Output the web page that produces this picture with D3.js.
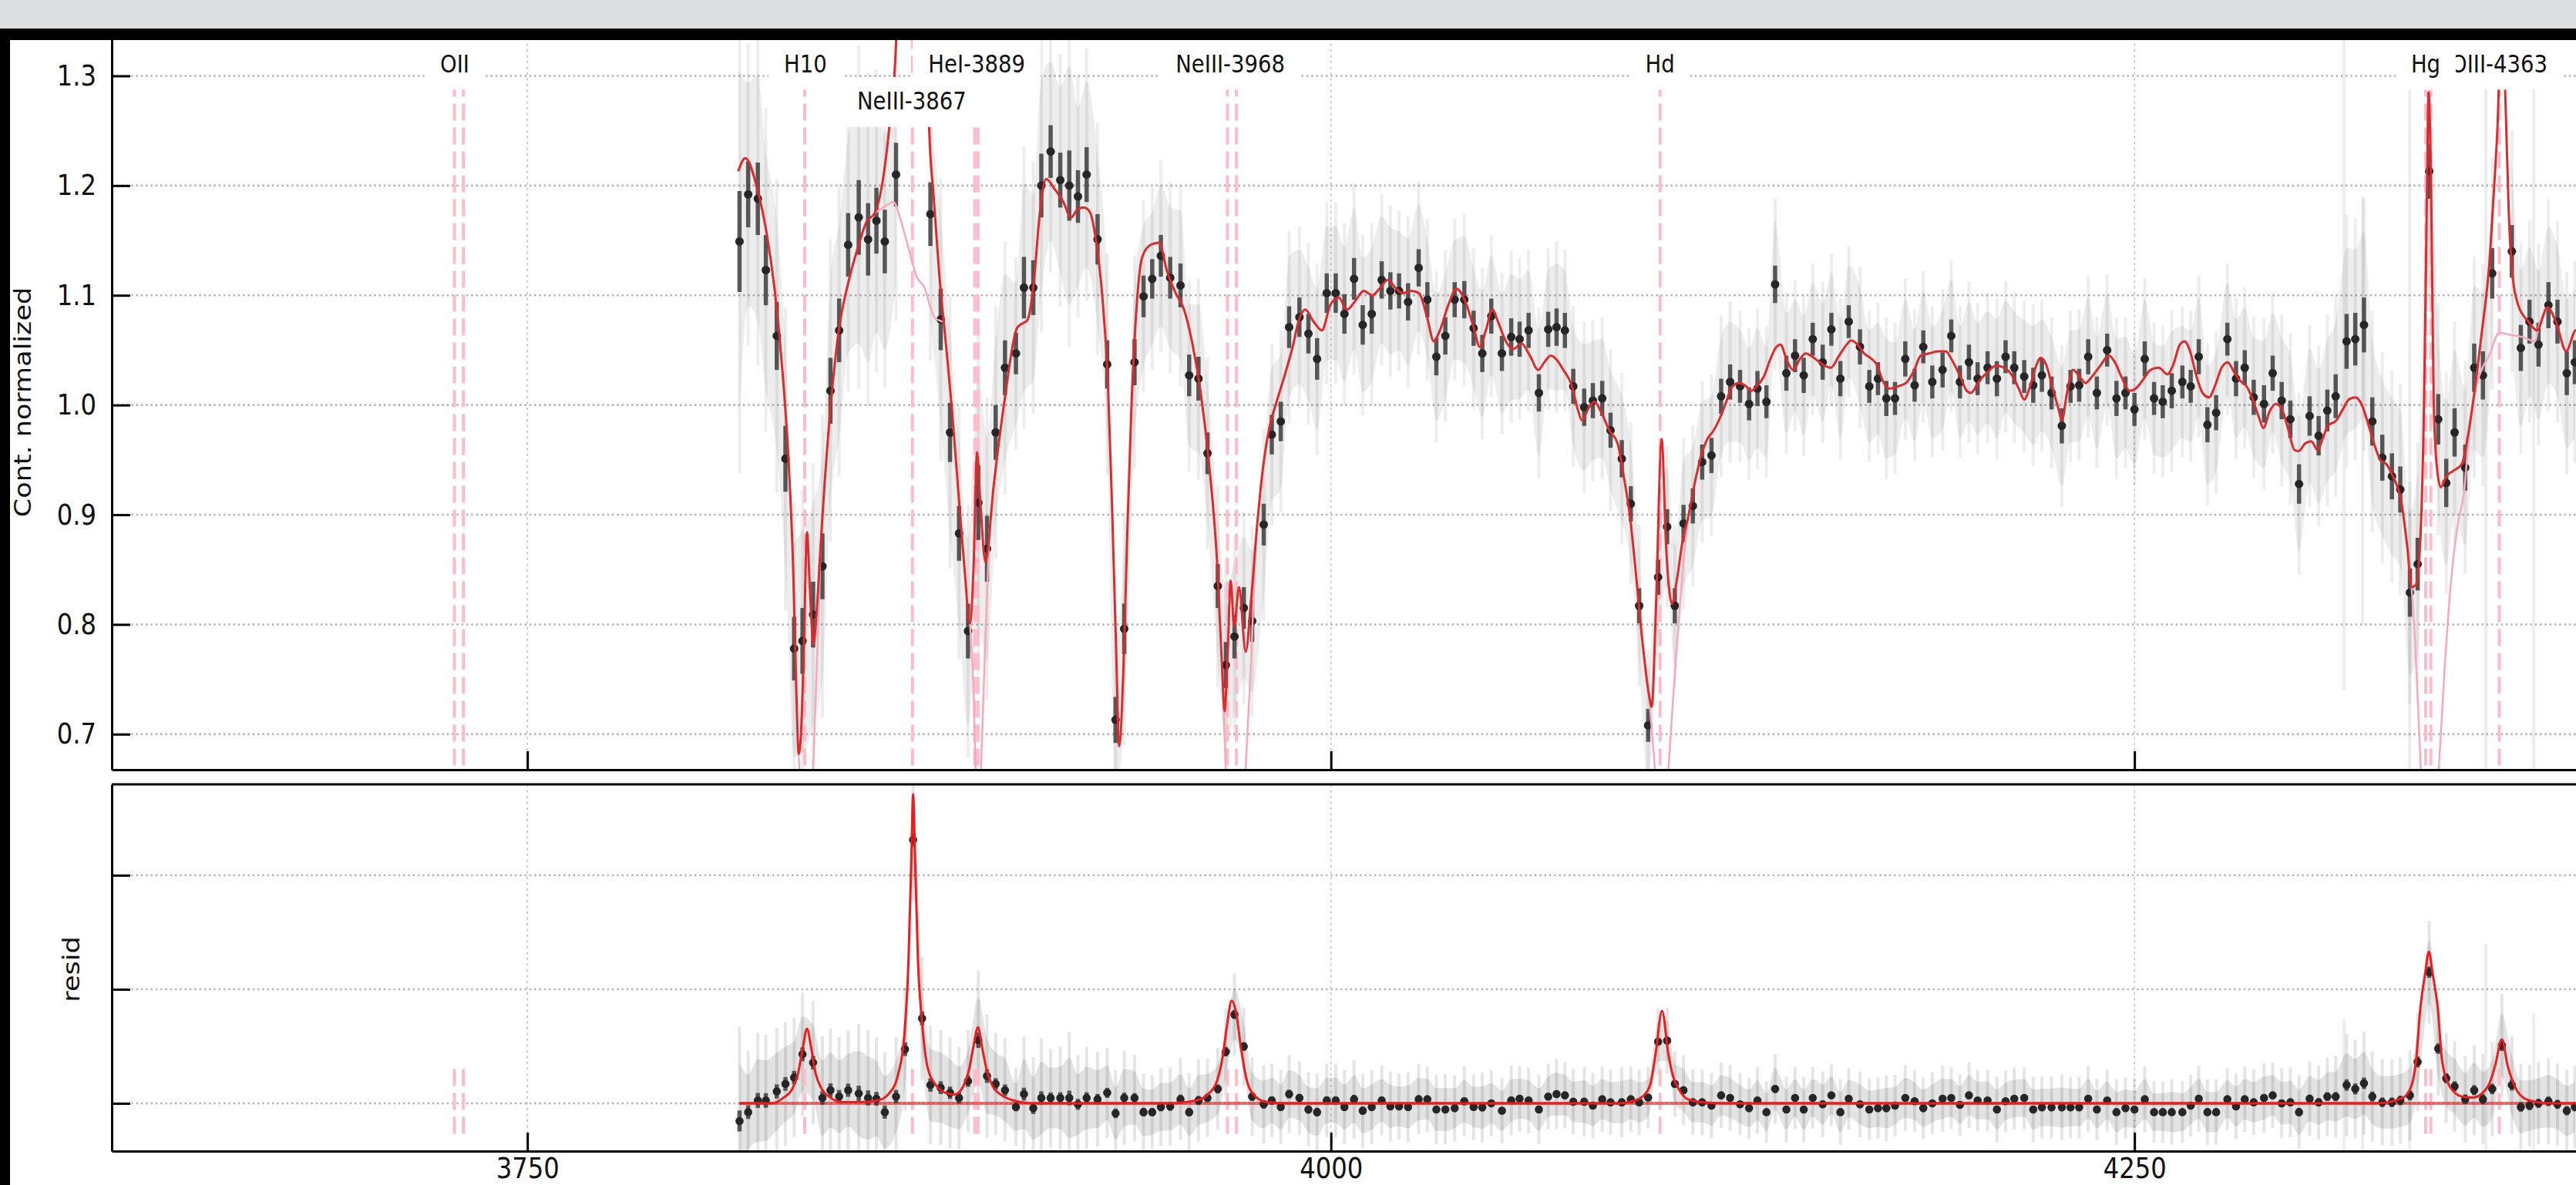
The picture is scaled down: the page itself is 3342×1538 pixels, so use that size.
<!DOCTYPE html>
<html>
<head>
<meta charset="utf-8">
<script src="https://cdn.jsdelivr.net/npm/d3@7"></script>
<style>
  html, body { margin: 0; padding: 0; background: #fff; overflow: hidden; }
  svg { display: block; }
  text { font-family: "DejaVu Sans", sans-serif; }
</style>
</head>
<body>
<svg id="chart" width="3342" height="1538"></svg>
<script>
// ---- data

// binned spectrum (dark points), wavelength in Angstrom
const binWave = [
  3816.0, 3818.7, 3821.7, 3824.2, 3827.6, 3830.3, 3833.0, 3835.6, 3838.9, 3841.8,
  3844.3, 3847.0, 3849.8, 3853.1, 3856.0, 3858.6, 3861.2, 3864.7, 3867.5, 3870.0,
  3872.8, 3875.4, 3878.6, 3881.5, 3884.3, 3887.1, 3890.3, 3893.0, 3895.7, 3898.6,
  3902.0, 3904.5, 3907.4, 3909.9, 3912.8, 3915.8, 3918.6, 3921.3, 3924.0, 3927.4,
  3930.4, 3933.0, 3935.7, 3938.9, 3941.7, 3944.4, 3947.1, 3950.0, 3953.2, 3955.9,
  3958.8, 3961.6, 3964.8, 3967.3, 3970.0, 3972.9, 3975.5, 3979.1, 3981.6, 3984.4,
  3987.0, 3990.2, 3993.0, 3995.7, 3998.7, 4001.5, 4004.2, 4007.2, 4009.9, 4012.7,
  4015.8, 4018.5, 4021.2, 4024.0, 4027.3, 4030.0, 4032.8, 4035.6, 4038.5, 4041.5,
  4044.4, 4047.1, 4049.9, 4053.2, 4056.1, 4058.7, 4061.5, 4064.7, 4067.6, 4070.2,
  4072.8, 4075.4, 4078.8, 4081.5, 4084.4, 4087.0, 4090.5, 4093.3, 4095.9, 4098.7,
  4101.8, 4104.6, 4107.0, 4109.7, 4112.6, 4115.5, 4118.4, 4121.4, 4124.2, 4127.3,
  4130.1, 4132.7, 4135.5, 4138.2, 4141.7, 4144.4, 4147.1, 4149.9, 4153.0, 4155.7,
  4158.5, 4161.1, 4164.6, 4167.5, 4170.2, 4172.8, 4175.5, 4178.7, 4181.6, 4184.3,
  4187.1, 4190.3, 4193.0, 4195.7, 4198.5, 4201.2, 4204.3, 4207.2, 4209.9, 4212.6,
  4215.7, 4218.5, 4221.2, 4224.2, 4227.4, 4230.1, 4232.8, 4235.6, 4238.3, 4241.5,
  4244.4, 4247.2, 4250.0, 4253.2, 4256.1, 4258.8, 4261.6, 4264.9, 4267.5, 4270.0,
  4272.7, 4275.4, 4278.9, 4281.6, 4284.3, 4287.1, 4290.3, 4293.0, 4295.8, 4298.5,
  4301.2, 4304.5, 4307.3, 4310.0, 4312.6, 4316.0, 4318.7, 4321.4, 4324.0, 4327.1,
  4330.1, 4332.7, 4335.7, 4338.1, 4341.7, 4344.5, 4347.0, 4349.6, 4352.9, 4355.7,
  4358.4, 4361.3, 4364.3, 4367.4, 4370.2, 4372.9, 4375.7, 4378.8, 4381.6, 4384.5,
  4387.0
];
// continuum-normalized flux (null = off the top / hidden)
const binFlux = [
  1.149, 1.192, 1.188, 1.123, 1.063, 0.951, 0.778, 0.785, 0.809, 0.853,
  1.013, 1.068, 1.146, 1.171, 1.151, 1.168, 1.149, 1.210, null, null,
  null, 1.174, 1.078, 0.975, 0.883, 0.794, 0.911, 0.869, 0.975, 1.034,
  1.047, 1.107, 1.107, 1.200, 1.231, 1.205, 1.200, 1.190, 1.210, 1.151,
  1.037, 0.713, 0.796, 1.039, 1.099, 1.115, 1.136, 1.116, 1.109, 1.027,
  1.024, 0.956, 0.835, 0.763, 0.789, 0.815, 0.803, 0.891, 0.973, 0.985,
  1.071, 1.080, 1.065, 1.042, 1.102, 1.102, 1.083, 1.115, 1.073, 1.083,
  1.114, 1.104, 1.104, 1.094, 1.125, 1.096, 1.044, 1.063, 1.096, 1.096,
  1.070, 1.047, 1.081, 1.047, 1.062, 1.060, 1.068, 1.011, 1.069, 1.071,
  1.068, 1.017, 0.998, 1.004, 1.006, 0.977, 0.951, 0.910, 0.817, 0.708,
  0.843, 0.889, 0.817, 0.892, 0.908, 0.948, 0.954, 1.008, 1.021, 1.017,
  1.001, 1.015, 1.003, 1.110, 1.029, 1.045, 1.027, 1.060, 1.039, 1.069,
  1.024, 1.076, 1.053, 1.017, 1.024, 1.006, 1.006, 1.042, 1.018, 1.053,
  1.021, 1.032, 1.063, 1.021, 1.039, 1.024, 1.034, 1.024, 1.044, 1.034,
  1.026, 1.018, 1.027, 1.011, 0.981, 1.017, 1.018, 1.044, 1.011, 1.050,
  1.006, 1.011, 0.996, 1.042, 1.006, 1.003, 1.013, 1.021, 1.017, 1.044,
  0.982, 0.993, 1.060, 1.024, 1.034, 1.007, 1.001, 1.029, 1.004, 0.987,
  0.928, 0.990, 0.972, 0.995, 1.008, 1.058, 1.060, 1.073, 0.985, 0.952,
  0.935, 0.923, 0.829, 0.855, 1.213, 0.987, 0.929, 0.975, 0.943, 1.034,
  1.027, 1.120, null, 1.140, 1.052, 1.076, 1.055, 1.091, 1.076, 1.029,
  1.039
];
const binErr = [
  0.046, 0.030, 0.033, 0.032, 0.031, 0.030, 0.029, 0.030, 0.030, 0.030,
  0.030, 0.029, 0.029, 0.034, 0.033, 0.030, 0.029, 0.029, 0.030, 0.030,
  0.030, 0.029, 0.028, 0.027, 0.025, 0.025, 0.034, 0.030, 0.025, 0.025,
  0.019, 0.028, 0.025, 0.029, 0.024, 0.025, 0.032, 0.024, 0.025, 0.023,
  0.022, 0.021, 0.023, 0.021, 0.019, 0.018, 0.019, 0.019, 0.020, 0.019,
  0.020, 0.019, 0.020, 0.021, 0.020, 0.019, 0.019, 0.019, 0.018, 0.018,
  0.019, 0.018, 0.018, 0.019, 0.018, 0.018, 0.018, 0.019, 0.018, 0.018,
  0.017, 0.017, 0.016, 0.017, 0.017, 0.016, 0.017, 0.017, 0.016, 0.017,
  0.016, 0.017, 0.016, 0.016, 0.017, 0.016, 0.016, 0.017, 0.016, 0.017,
  0.016, 0.016, 0.017, 0.016, 0.016, 0.016, 0.017, 0.016, 0.016, 0.015,
  0.016, 0.016, 0.016, 0.017, 0.016, 0.016, 0.016, 0.016, 0.016, 0.015,
  0.015, 0.016, 0.015, 0.017, 0.016, 0.015, 0.016, 0.015, 0.016, 0.015,
  0.016, 0.015, 0.016, 0.015, 0.015, 0.016, 0.015, 0.016, 0.015, 0.015,
  0.015, 0.016, 0.015, 0.015, 0.016, 0.015, 0.015, 0.016, 0.015, 0.015,
  0.015, 0.016, 0.015, 0.015, 0.016, 0.015, 0.015, 0.016, 0.015, 0.015,
  0.016, 0.015, 0.015, 0.016, 0.015, 0.015, 0.016, 0.015, 0.015, 0.016,
  0.016, 0.016, 0.015, 0.016, 0.016, 0.016, 0.017, 0.016, 0.017, 0.017,
  0.018, 0.018, 0.018, 0.019, 0.020, 0.025, 0.024, 0.025, 0.022, 0.021,
  0.021, 0.021, 0.022, 0.024, 0.025, 0.023, 0.022, 0.022, 0.021, 0.022,
  0.022, 0.023, 0.025, 0.024, 0.021, 0.020, 0.020, 0.021, 0.020, 0.020,
  0.020
];
// residual (lower panel), same bins
const binResid = [
  -0.0155, -0.0077, 0.0025, 0.0025, 0.0104, 0.0170, 0.0227, 0.0430, 0.0356, 0.0047,
  0.0115, 0.0059, 0.0115, 0.0086, 0.0047, 0.0040, -0.0077, 0.0059, 0.0475, 0.2310,
  0.0745, 0.0160, 0.0137, 0.0092, 0.0047, 0.0194, 0.0554, 0.0239, 0.0170, 0.0115,
  -0.0032, 0.0081, -0.0043, 0.0047, 0.0047, 0.0047, 0.0047, -0.0009, 0.0047, 0.0036,
  0.0092, -0.0088, 0.0047, 0.0047, -0.0077, -0.0077, -0.0032, -0.0027, 0.0036, -0.0077,
  0.0025, 0.0047, 0.0126, 0.0453, 0.0779, 0.0498, 0.0059, -0.0009, 0.0025, -0.0032,
  0.0081, 0.0047, -0.0054, -0.0077, 0.0025, 0.0025, -0.0032, 0.0036, -0.0065, -0.0032,
  0.0025, -0.0027, -0.0027, -0.0032, 0.0036, 0.0036, -0.0054, -0.0054, -0.0043, 0.0018,
  -0.0032, -0.0036, 0.0000, -0.0065, 0.0025, 0.0040, 0.0025, -0.0054, 0.0059, 0.0081,
  0.0070, 0.0014, 0.0014, -0.0020, 0.0036, 0.0009, 0.0009, 0.0036, 0.0009, 0.0050,
  0.0540, 0.0550, 0.0170, 0.0115, 0.0009, 0.0009, -0.0020, 0.0070, 0.0047, -0.0009,
  -0.0043, 0.0025, -0.0077, 0.0126, -0.0054, 0.0047, -0.0054, 0.0047, -0.0009, 0.0070,
  -0.0077, 0.0040, -0.0009, -0.0054, -0.0043, -0.0043, -0.0020, 0.0047, 0.0018, -0.0043,
  0.0000, 0.0040, 0.0047, -0.0014, 0.0070, 0.0025, 0.0025, -0.0054, 0.0018, 0.0040,
  0.0047, -0.0054, -0.0036, -0.0036, -0.0036, -0.0036, -0.0036, 0.0040, -0.0054, 0.0025,
  -0.0077, -0.0043, -0.0054, 0.0036, -0.0077, -0.0077, -0.0077, -0.0077, -0.0020, 0.0040,
  -0.0077, -0.0077, 0.0036, -0.0027, 0.0036, 0.0009, 0.0047, 0.0070, 0.0000, 0.0009,
  -0.0077, 0.0040, 0.0009, 0.0059, 0.0059, 0.0160, 0.0126, 0.0176, 0.0059, 0.0009,
  0.0009, 0.0025, 0.0070, 0.0363, 0.1150, 0.0480, 0.0220, 0.0149, 0.0036, 0.0115,
  0.0036, 0.0126, 0.0509, 0.0160, -0.0032, -0.0020, 0.0000, 0.0018, -0.0009, -0.0065,
  -0.0030
];

// full model (red, upper panel)
const modelWave = [
  3815.6, 3817.8, 3821.7, 3824.3, 3826.9, 3829.5, 3831.4, 3832.7, 3833.7, 3834.4,
  3835.1, 3836.0, 3837.0, 3837.9, 3839.0, 3840.2, 3841.2, 3843.8, 3846.7, 3850.3,
  3852.9, 3855.5, 3858.1, 3860.7, 3862.6, 3864.7, 3866.5, 3868.5, 3870.0, 3871.5,
  3873.3, 3875.0, 3876.3, 3878.2, 3880.2, 3882.1, 3884.1, 3886.0, 3887.7, 3888.8,
  3889.9, 3891.0, 3892.5, 3895.1, 3898.4, 3902.3, 3903.8, 3905.5, 3907.5, 3909.4,
  3911.4, 3914.0, 3916.6, 3919.2, 3921.1, 3923.1, 3925.0, 3927.0, 3928.9, 3930.6,
  3931.9, 3933.2, 3934.1, 3935.4, 3936.7, 3938.0, 3939.3, 3941.3, 3943.9, 3946.5,
  3949.1, 3951.7, 3954.3, 3956.9, 3959.5, 3962.1, 3964.7, 3966.2, 3966.9, 3967.9,
  3968.8, 3969.9, 3971.4, 3973.5, 3975.1, 3977.0, 3979.0, 3980.9, 3982.9, 3985.5,
  3988.1, 3990.0, 3992.0, 3994.6, 3997.2, 3999.8, 4002.4, 4005.0, 4007.6, 4010.2,
  4012.8, 4015.1, 4017.7, 4020.3, 4022.3, 4024.9, 4027.4, 4030.0, 4032.0, 4033.9,
  4036.5, 4039.1, 4041.7, 4044.3, 4046.3, 4048.2, 4050.2, 4052.1, 4054.1, 4056.7,
  4059.3, 4061.9, 4064.5, 4066.4, 4068.4, 4070.3, 4072.3, 4074.9, 4076.8, 4078.1,
  4080.1, 4082.0, 4084.0, 4086.6, 4089.2, 4091.1, 4093.1, 4095.0, 4097.0, 4098.9,
  4099.8, 4101.1, 4102.9, 4104.3, 4106.1, 4107.6, 4109.3, 4111.3, 4113.2, 4115.2,
  4117.1, 4119.1, 4121.0, 4123.0, 4124.9, 4126.9, 4128.8, 4130.8, 4132.7, 4134.7,
  4136.6, 4138.6, 4139.9, 4141.8, 4143.8, 4145.7, 4147.7, 4150.3, 4152.9, 4155.5,
  4158.1, 4160.7, 4161.9, 4163.9, 4165.9, 4167.8, 4169.8, 4171.7, 4173.7, 4176.3,
  4178.9, 4181.5, 4183.5, 4186.1, 4188.7, 4191.3, 4193.2, 4195.8, 4197.8, 4199.1,
  4201.7, 4204.3, 4206.9, 4209.5, 4212.1, 4214.0, 4215.7, 4217.3, 4219.2, 4220.8,
  4222.5, 4224.4, 4226.4, 4227.4, 4229.0, 4230.9, 4232.9, 4234.8, 4236.8, 4239.4,
  4242.0, 4243.9, 4245.9, 4248.5, 4250.4, 4252.4, 4255.0, 4257.6, 4260.2, 4262.1,
  4264.1, 4265.6, 4267.3, 4269.3, 4271.2, 4273.2, 4275.1, 4277.1, 4279.0, 4281.0,
  4282.9, 4284.9, 4286.8, 4288.8, 4290.1, 4292.0, 4294.0, 4295.9, 4297.9, 4299.8,
  4301.1, 4303.1, 4305.0, 4307.0, 4308.5, 4310.2, 4312.8, 4314.8, 4316.7, 4318.7,
  4320.6, 4322.6, 4324.5, 4326.5, 4328.4, 4330.4, 4333.0, 4334.9, 4336.2, 4337.5,
  4338.8, 4340.1, 4341.0, 4341.5, 4342.3, 4343.1, 4344.0, 4345.3, 4347.0, 4349.2,
  4351.8, 4353.8, 4356.4, 4358.3, 4360.3, 4361.8, 4362.9, 4364.3, 4365.6, 4366.4,
  4367.4, 4369.4, 4372.6, 4375.2, 4378.5, 4381.1, 4384.3, 4387.3, 4392.0
];
const modelFlux = [
  1.213, 1.225, 1.195, 1.159, 1.106, 1.026, 0.942, 0.851, 0.737, 0.682,
  0.699, 0.775, 0.884, 0.832, 0.782, 0.820, 0.870, 0.980, 1.064, 1.117,
  1.144, 1.167, 1.175, 1.207, 1.253, 1.330, 1.600, 2.200, 2.500, 2.200,
  1.600, 1.253, 1.194, 1.117, 1.056, 0.996, 0.920, 0.851, 0.801, 0.851,
  0.957, 0.908, 0.857, 0.927, 1.003, 1.070, 1.074, 1.077, 1.110, 1.174,
  1.206, 1.197, 1.186, 1.171, 1.178, 1.180, 1.176, 1.148, 1.098, 1.022,
  0.908, 0.775, 0.689, 0.756, 0.889, 1.003, 1.079, 1.135, 1.146, 1.148,
  1.121, 1.102, 1.087, 1.056, 1.011, 0.946, 0.851, 0.756, 0.721, 0.775,
  0.840, 0.798, 0.834, 0.775, 0.820, 0.889, 0.946, 0.980, 1.001, 1.026,
  1.053, 1.077, 1.087, 1.076, 1.068, 1.091, 1.098, 1.087, 1.095, 1.104,
  1.100, 1.106, 1.114, 1.106, 1.102, 1.104, 1.102, 1.079, 1.058, 1.068,
  1.091, 1.106, 1.095, 1.072, 1.053, 1.068, 1.087, 1.075, 1.060, 1.051,
  1.056, 1.045, 1.032, 1.039, 1.045, 1.041, 1.032, 1.018, 0.996, 0.986,
  0.997, 1.003, 0.994, 0.977, 0.965, 0.935, 0.897, 0.843, 0.782, 0.737,
  0.725, 0.813, 0.969, 0.870, 0.819, 0.840, 0.874, 0.900, 0.929, 0.954,
  0.969, 0.977, 0.988, 1.003, 1.017, 1.020, 1.018, 1.013, 1.018, 1.026,
  1.041, 1.053, 1.055, 1.041, 1.032, 1.041, 1.047, 1.043, 1.037, 1.034,
  1.045, 1.056, 1.059, 1.055, 1.047, 1.043, 1.037, 1.022, 1.015, 1.017,
  1.020, 1.032, 1.045, 1.047, 1.049, 1.049, 1.041, 1.026, 1.013, 1.011,
  1.022, 1.030, 1.036, 1.034, 1.026, 1.015, 1.005, 1.015, 1.034, 1.043,
  1.037, 1.017, 0.996, 0.986, 1.011, 1.032, 1.026, 1.020, 1.026, 1.036,
  1.045, 1.039, 1.026, 1.013, 1.015, 1.022, 1.032, 1.034, 1.028, 1.037,
  1.055, 1.058, 1.049, 1.026, 1.011, 1.007, 1.018, 1.034, 1.039, 1.030,
  1.022, 1.017, 1.005, 0.988, 0.979, 0.994, 1.001, 0.996, 0.977, 0.959,
  0.958, 0.965, 0.967, 0.959, 0.969, 0.981, 0.986, 0.996, 1.005, 1.007,
  1.001, 0.984, 0.965, 0.950, 0.946, 0.935, 0.912, 0.870, 0.834, 0.836,
  0.870, 1.003, 1.194, 1.285, 1.194, 1.003, 0.946, 0.925, 0.935, 0.940,
  0.946, 0.973, 1.026, 1.072, 1.125, 1.194, 1.251, 1.360, 1.260, 1.180,
  1.125, 1.091, 1.076, 1.068, 1.089, 1.076, 1.049, 1.068, 1.060
];

// continuum without emission lines (pink), only where it leaves the red model
const contWave = [
  3834.4, 3835.1, 3836.0, 3837.0, 3838.2, 3839.3, 3840.5, 3841.2, null,
  3858.1, 3860.7, 3863.9, 3865.9, 3868.5, 3871.1, 3873.7, 3875.2, 3876.9, 3879.6, 3880.2, null,
  3887.7, 3888.8, 3889.6, 3890.5, 3891.5, 3892.5, 3893.8, null,
  3966.2, 3966.9, 3968.0, 3969.5, 3971.0, 3972.5, 3974.0, 3975.3, 3976.4, 3977.0, null,
  4098.9, 4100.5, 4102.0, 4103.5, 4104.8, 4106.4, 4108.0, 4109.6, 4111.3, null,
  4336.2, 4337.2, 4338.3, 4339.5, 4341.5, 4343.5, 4344.7, 4346.5, 4348.5, 4350.5,
  4352.5, 4354.5, 4356.4, 4358.3, 4360.3, 4363.5, 4366.8, 4370.7, 4374.6, 4375.9, 4378.5
];
const contFlux = [
  0.682, 0.640, 0.600, 0.580, 0.620, 0.700, 0.800, 0.870, null,
  1.175, 1.180, 1.185, 1.171, 1.144, 1.117, 1.106, 1.091, 1.079, 1.075, 1.056, null,
  0.801, 0.740, 0.660, 0.640, 0.700, 0.790, 0.888, null,
  0.756, 0.700, 0.620, 0.580, 0.580, 0.620, 0.700, 0.775, 0.860, 0.889, null,
  0.737, 0.680, 0.620, 0.610, 0.660, 0.730, 0.794, 0.855, 0.900, null,
  0.834, 0.790, 0.720, 0.640, 0.560, 0.600, 0.669, 0.760, 0.840, 0.890,
  0.920, 0.985, 1.018, 1.034, 1.045, 1.066, 1.064, 1.062, 1.058, 1.073, 1.089
];

// emission-line model (red, lower panel)
const residModelWave = [
  3815.9, 3826.0, 3829.7, 3832.4, 3834.2, 3835.7, 3837.0, 3838.3, 3839.7, 3841.6,
  3844.3, 3848.0, 3853.5, 3859.0, 3862.7, 3865.4, 3867.3, 3868.6, 3869.5, 3870.0,
  3870.6, 3871.5, 3872.8, 3874.6, 3877.4, 3880.1, 3882.9, 3885.6, 3887.5, 3888.7,
  3890.2, 3891.5, 3893.0, 3894.8, 3897.6, 3901.2, 3906.7, 3950.0, 3958.1, 3961.8,
  3964.5, 3966.4, 3967.7, 3969.1, 3970.6, 3971.9, 3973.7, 3976.5, 3980.1, 3986.0,
  4090.0, 4094.0, 4097.0, 4099.3, 4101.0, 4103.0, 4105.0, 4106.4, 4108.2, 4111.0,
  4115.5, 4122.0, 4325.0, 4333.4, 4336.1, 4337.6, 4338.9, 4340.5, 4341.6, 4342.7,
  4344.4, 4345.7, 4348.1, 4351.8, 4355.4, 4360.0, 4362.2, 4364.3, 4366.1, 4368.3,
  4371.1, 4374.7, 4380.0, 4420.0
];
const residModelFlux = [
  0.0000, 0.0000, 0.0050, 0.0126, 0.0260, 0.0486, 0.0655, 0.0486, 0.0260, 0.0126,
  0.0050, 0.0010, 0.0010, 0.0025, 0.0092, 0.0260, 0.0600, 0.1270, 0.2180, 0.2710,
  0.2180, 0.1270, 0.0710, 0.0306, 0.0149, 0.0092, 0.0077, 0.0149, 0.0306, 0.0486,
  0.0667, 0.0486, 0.0280, 0.0149, 0.0070, 0.0025, 0.0000, 0.0000, 0.0025, 0.0080,
  0.0190, 0.0420, 0.0690, 0.0900, 0.0780, 0.0510, 0.0216, 0.0060, 0.0010, 0.0000,
  0.0000, 0.0020, 0.0060, 0.0160, 0.0430, 0.0810, 0.0430, 0.0240, 0.0126, 0.0036,
  0.0010, 0.0000, 0.0000, 0.0047, 0.0149, 0.0374, 0.0824, 0.1150, 0.1330, 0.1150,
  0.0824, 0.0374, 0.0149, 0.0060, 0.0050, 0.0149, 0.0330, 0.0560, 0.0330, 0.0149,
  0.0047, 0.0014, 0.0000, 0.0000
];

// marked lines (pink dashed) and their labels
const lineWave = [3727.3, 3730.1, 3836.3, 3869.8, 3889.2, 3890.2, 3967.8, 3970.6, 4102.4, 4340.6, 4342.2, 4363.5];
const labelText = ["OII", "H10", "NeIII-3867", "HeI-3889", "NeIII-3968", "Hd", "OIII-4363", "Hg"];
const labelWave = [3727.4, 3836.5, 3869.6, 3889.8, 3968.7, 4102.4, 4363.4, 4340.6];
const labelRow = [0, 0, 1, 0, 0, 0, 0, 0];

// single pixels with very large errors (faint full-height bars)
const wideWave = [4315.2, 4321.0, 4335.6, 4359.3, 4374.2];
const wideTopLo = [0.74, 0.80, 0.60, 0.60, 0.60];
const wideTopHi = [1.34, 1.19, 1.34, 1.34, 1.34];
const wideResHi = [0.074, 0.010, 0.010, 0.140, 0.079];

const xTicks = [3750, 4000, 4250];
const yTicksTop = [0.7, 0.8, 0.9, 1.0, 1.1, 1.2, 1.3];
const yTicksRes = [0, 0.1, 0.2];

// ---- layout
const W = 3342, H = 1538;
const squeeze = 0.86;            // glyphs in the reference are narrower than they are tall
const svg = d3.select("#chart");

const x = d3.scaleLinear().domain([3620.7, 4420]).range([145, 145 + 799.3 * 4.17]);
const yTop = d3.scaleLinear().domain([0.6676, 1.34]).range([999, 41.5]);
const yRes = d3.scaleLinear().domain([-0.0419, 0.2797]).range([1494, 1018]);

svg.append("rect").attr("width", W).attr("height", H).attr("fill", "#fff");

const defs = svg.append("defs");
defs.append("clipPath").attr("id", "clipTop").append("rect")
  .attr("x", 145).attr("y", 0).attr("width", W).attr("height", 999);
defs.append("clipPath").attr("id", "clipRes").append("rect")
  .attr("x", 145).attr("y", 1018).attr("width", W).attr("height", 1494 - 1018);

const bins = d3.range(binWave.length).map(i => ({
  w: binWave[i], f: binFlux[i], e: binErr[i], r: binResid[i]
}));

function gridLines(g, yScale, yVals) {
  g.selectAll(".hgrid").data(yVals).join("line").attr("class", "hgrid")
    .attr("x1", 145).attr("x2", W)
    .attr("y1", d => yScale(d)).attr("y2", d => yScale(d))
    .attr("stroke", "#b4b4b4").attr("stroke-width", 2.6)
    .attr("stroke-dasharray", "2.5,3.8");
  g.selectAll(".vgrid").data(xTicks).join("line").attr("class", "vgrid")
    .attr("x1", d => x(d)).attr("x2", d => x(d))
    .attr("y1", yScale.range()[1]).attr("y2", yScale.range()[0])
    .attr("stroke", "#c4c4c4").attr("stroke-width", 1.6)
    .attr("stroke-dasharray", "3,4.5");
}

// scatter of the unbinned pixels: a soft band plus one faint streak per bin
function haze(g, yScale, val, kBand, bandOpacity, kStreak, streakOpacity) {
  const area = d3.area()
    .defined(d => val(d) !== null)
    .x(d => x(d.w))
    .y0(d => yScale(val(d) - kBand * d.e))
    .y1(d => yScale(val(d) + kBand * d.e))
    .curve(d3.curveMonotoneX);
  g.append("path").datum(bins).attr("d", area)
    .attr("fill", "#000").attr("opacity", bandOpacity);
  g.append("g").selectAll("line").data(bins.filter(d => val(d) !== null)).join("line")
    .attr("x1", d => x(d.w)).attr("x2", d => x(d.w))
    .attr("y1", d => yScale(val(d) - kStreak * d.e))
    .attr("y2", d => yScale(val(d) + kStreak * d.e))
    .attr("stroke", "#000").attr("stroke-opacity", streakOpacity).attr("stroke-width", 4);
}

// ================= upper panel =================
const upper = svg.append("g").attr("clip-path", "url(#clipTop)");
gridLines(upper, yTop, yTicksTop);

upper.selectAll(".wide").data(wideWave).join("line").attr("class", "wide")
  .attr("x1", d => x(d)).attr("x2", d => x(d))
  .attr("y1", (d, i) => yTop(wideTopHi[i])).attr("y2", (d, i) => yTop(wideTopLo[i]))
  .attr("stroke", "#000").attr("stroke-opacity", 0.07).attr("stroke-width", 4);

haze(upper, yTop, d => d.f, 3.4, 0.07, 4.6, 0.07);

upper.selectAll(".vline").data(lineWave).join("line").attr("class", "vline")
  .attr("x1", d => x(d)).attr("x2", d => x(d))
  .attr("y1", yTop(1.34)).attr("y2", yTop(0.6676))
  .attr("stroke", "#ffbcc8").attr("stroke-width", 4)
  .attr("stroke-dasharray", "22,9");

const shown = bins.filter(d => d.f !== null);
upper.selectAll(".ebar").data(shown).join("line").attr("class", "ebar")
  .attr("x1", d => x(d.w)).attr("x2", d => x(d.w))
  .attr("y1", d => yTop(d.f - d.e)).attr("y2", d => yTop(d.f + d.e))
  .attr("stroke", "#333").attr("stroke-opacity", 0.8).attr("stroke-width", 5.5);
upper.selectAll(".pt").data(shown).join("circle").attr("class", "pt")
  .attr("cx", d => x(d.w)).attr("cy", d => yTop(d.f)).attr("r", 5.5)
  .attr("fill", "#262626");

const contLine = d3.line()
  .defined((d, i) => contWave[i] !== null)
  .x((d, i) => x(contWave[i])).y((d, i) => yTop(contFlux[i]))
  .curve(d3.curveMonotoneX);
upper.append("path").datum(contWave).attr("d", contLine)
  .attr("fill", "none").attr("stroke", "#f7a9b8").attr("stroke-width", 2.5);

const modelLine = d3.line()
  .x((d, i) => x(modelWave[i])).y((d, i) => yTop(modelFlux[i]))
  .curve(d3.curveMonotoneX);
upper.append("path").datum(modelWave).attr("d", modelLine)
  .attr("fill", "none").attr("stroke", "#de2a2c").attr("stroke-width", 3)
  .attr("stroke-linejoin", "round");

// axes of the upper panel
const yAxisTop = svg.append("g").attr("transform", "translate(145,0)")
  .call(d3.axisLeft(yTop).tickValues(yTicksTop).tickSize(-24).tickSizeOuter(0)
    .tickPadding(20).tickFormat(d3.format(".1f")));
const xAxisTop = svg.append("g").attr("transform", "translate(0,999)")
  .call(d3.axisBottom(x).tickValues(xTicks).tickSize(-24).tickSizeOuter(0).tickFormat(""));

// line labels with white boxes
const labelG = svg.append("g");
labelText.forEach((t, i) => {
  const cx = x(labelWave[i]);
  const base = labelRow[i] === 0 ? 93.7 : 142;
  const boxTop = labelRow[i] === 0 ? 51.7 : 100;
  const box = labelG.append("rect");
  const txt = labelG.append("text")
    .attr("transform", `translate(${cx},${base}) scale(${squeeze},1)`)
    .attr("text-anchor", "middle")
    .style("font-size", "32px").attr("fill", "#111")
    .text(t);
  const w = txt.node().getComputedTextLength() * squeeze;
  box.attr("x", cx - w / 2 - 20).attr("y", boxTop)
    .attr("width", w + 40).attr("height", base + 22.7 - boxTop)
    .attr("fill", "#fff");
});

// ================= lower panel =================
const lower = svg.append("g").attr("clip-path", "url(#clipRes)");
gridLines(lower, yRes, yTicksRes);

lower.selectAll(".wide").data(wideWave).join("line").attr("class", "wide")
  .attr("x1", d => x(d)).attr("x2", d => x(d))
  .attr("y1", (d, i) => yRes(wideResHi[i])).attr("y2", yRes(-0.0419))
  .attr("stroke", "#000").attr("stroke-opacity", 0.07).attr("stroke-width", 4);

haze(lower, yRes, d => d.r, 1.1, 0.11, 1.8, 0.1);

lower.selectAll(".vline").data(lineWave).join("line").attr("class", "vline")
  .attr("x1", d => x(d)).attr("x2", d => x(d))
  .attr("y1", yRes(0.03)).attr("y2", yRes(-0.03))
  .attr("stroke", "#ffbcc8").attr("stroke-width", 4)
  .attr("stroke-dasharray", "22,9");

lower.append("line")
  .attr("x1", x(binWave[0])).attr("x2", W)
  .attr("y1", yRes(0)).attr("y2", yRes(0))
  .attr("stroke", "#e23a3a").attr("stroke-opacity", 0.7).attr("stroke-width", 4);

lower.selectAll(".ebar").data(bins).join("line").attr("class", "ebar")
  .attr("x1", d => x(d.w)).attr("x2", d => x(d.w))
  .attr("y1", d => yRes(d.r - d.e / 5)).attr("y2", d => yRes(d.r + d.e / 5))
  .attr("stroke", "#333").attr("stroke-opacity", 0.8).attr("stroke-width", 5.5);
lower.selectAll(".pt").data(bins).join("circle").attr("class", "pt")
  .attr("cx", d => x(d.w)).attr("cy", d => yRes(d.r)).attr("r", 5.3)
  .attr("fill", "#262626");

const residLine = d3.line()
  .x((d, i) => x(residModelWave[i])).y((d, i) => yRes(residModelFlux[i]))
  .curve(d3.curveMonotoneX);
lower.append("path").datum(residModelWave).attr("d", residLine)
  .attr("fill", "none").attr("stroke", "#ee1c1c").attr("stroke-width", 3);

const yAxisRes = svg.append("g").attr("transform", "translate(145,0)")
  .call(d3.axisLeft(yRes).tickValues(yTicksRes).tickSize(-24).tickSizeOuter(0).tickFormat(""));
const xAxisRes = svg.append("g").attr("transform", "translate(0,1494)")
  .call(d3.axisBottom(x).tickValues(xTicks).tickSize(-24).tickSizeOuter(0)
    .tickPadding(8).tickFormat(d3.format("d")));
svg.append("line").attr("x1", 145).attr("x2", W).attr("y1", 1018).attr("y2", 1018)
  .attr("stroke", "#000").attr("stroke-width", 3);

// style all axes
[yAxisTop, xAxisTop, yAxisRes, xAxisRes].forEach(g => {
  g.select(".domain").attr("stroke", "#000").attr("stroke-width", 3);
  g.selectAll(".tick line").attr("stroke", "#000").attr("stroke-width", 3);
  g.selectAll(".tick text").style("font-size", "37.5px").attr("fill", "#111")
    .attr("font-family", "DejaVu Sans");
});
yAxisTop.selectAll(".tick text")
  .attr("x", -20 / squeeze).attr("transform", `scale(${squeeze},1)`);
xAxisRes.selectAll(".tick text").attr("transform", `scale(${squeeze},1)`);

// axis titles
svg.append("text")
  .attr("transform", `translate(30,522) rotate(-90) scale(1,${squeeze})`)
  .attr("text-anchor", "middle").attr("dominant-baseline", "central")
  .style("font-size", "35px").attr("fill", "#111")
  .text("Cont. normalized");
svg.append("text")
  .attr("transform", `translate(93,1258) rotate(-90) scale(1,${squeeze})`)
  .attr("text-anchor", "middle").attr("dominant-baseline", "central")
  .style("font-size", "35px").attr("fill", "#111")
  .text("resid");

// window frame around the figure
svg.append("rect").attr("x", 0).attr("y", 0).attr("width", W).attr("height", 37).attr("fill", "#dcdddf");
svg.append("rect").attr("x", 0).attr("y", 37).attr("width", W).attr("height", 15).attr("fill", "#000");
svg.append("rect").attr("x", 0).attr("y", 37).attr("width", 13).attr("height", H - 37).attr("fill", "#000");
</script>
</body>
</html>
